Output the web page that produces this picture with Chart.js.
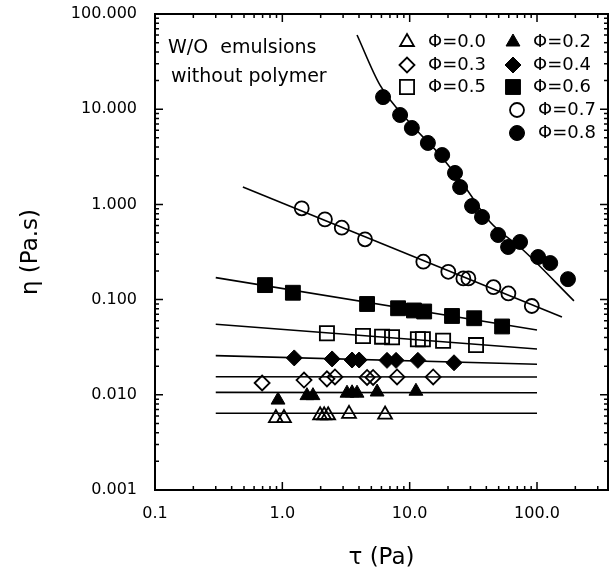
<!DOCTYPE html>
<html>
<head>
<meta charset="utf-8">
<script src="https://cdn.jsdelivr.net/npm/chart.js@4.4.0/dist/chart.umd.min.js"></script>
<style>
  html, body { margin: 0; padding: 0; background: #fff; }
  canvas { display: block; }
</style>
</head>
<body>
<canvas id="viscChart" width="611" height="571"></canvas>
<script>
// shear stress tau (Pa) vs viscosity eta (Pa.s)
const phi00Tau = [0.89, 1.03, 1.98, 2.13, 2.29, 3.34, 6.41];
const phi00Eta = [0.0057, 0.0057, 0.0061, 0.0061, 0.0061, 0.0063, 0.0062];
const phi02Tau = [0.925, 1.56, 1.74, 3.22, 3.53, 3.86, 5.55, 11.2];
const phi02Eta = [0.0088, 0.0098, 0.0098, 0.0104, 0.0105, 0.0104, 0.0107, 0.0109];
const phi03Tau = [0.694, 1.48, 2.24, 2.59, 4.63, 5.16, 7.96, 15.3];
const phi03Eta = [0.0133, 0.0143, 0.0147, 0.0154, 0.0152, 0.0152, 0.0154, 0.0154];
const phi04Tau = [1.24, 2.46, 3.53, 4.01, 6.64, 7.82, 11.6, 22.3];
const phi04Eta = [0.0244, 0.0238, 0.0232, 0.0232, 0.0230, 0.0230, 0.0230, 0.0217];
const phi05Tau = [2.24, 4.30, 6.07, 7.27, 11.6, 12.7, 18.3, 33.2];
const phi05Eta = [0.0443, 0.0415, 0.0408, 0.0402, 0.0383, 0.0383, 0.0370, 0.0333];
const phi06Tau = [0.731, 1.21, 4.63, 8.11, 10.8, 13.0, 21.5, 32.1, 53.2];
const phi06Eta = [0.142, 0.118, 0.0899, 0.0811, 0.0769, 0.0750, 0.0673, 0.0637, 0.0522];
const phi07Tau = [1.42, 2.16, 2.93, 4.46, 12.8, 20.1, 26.4, 28.9, 45.5, 59.6, 91.0];
const phi07Eta = [0.910, 0.697, 0.569, 0.430, 0.250, 0.196, 0.167, 0.167, 0.135, 0.116, 0.0857];
const phi08Tau = [6.18, 8.41, 10.4, 13.9, 18.0, 22.7, 24.9, 30.9, 37.0, 49.5, 59.3, 73.6, 102, 127, 175];
const phi08Eta = [13.4, 8.69, 6.35, 4.42, 3.30, 2.14, 1.52, 0.962, 0.738, 0.477, 0.357, 0.403, 0.280, 0.242, 0.164];

// fitted curves
const fitTau = [0.3, 100];
const fit00Eta = [0.0064, 0.0064];
const fit02Eta = [0.0106, 0.0105];
const fit03Eta = [0.0155, 0.0154];
const fit04Eta = [0.0258, 0.0209];
const fit05Eta = [0.055, 0.0303];
const fit06Eta = [0.170, 0.048];
const fit07Tau = [0.49, 157];
const fit07Eta = [1.52, 0.0656];
const fit08Tau = [3.86, 5.85, 10.4, 17.3, 27.2, 42.8, 77.8, 195];
const fit08Eta = [60.2, 17.9, 6.82, 3.30, 1.52, 0.653, 0.332, 0.097];

const FONT = "'DejaVu Sans', 'Liberation Sans', sans-serif";
const pts = (xs, ys) => xs.map((v, i) => ({ x: v, y: ys[i] }));
const isDecade = v => Math.abs(Math.log10(v) - Math.round(Math.log10(v))) < 1e-6;

function marker(label, xs, ys, style, filled, r) {
    return {
        label, data: pts(xs, ys), showLine: false,
        pointStyle: style, pointRadius: r, pointHoverRadius: r,
        pointBackgroundColor: filled ? '#000' : 'rgba(0,0,0,0)',
        pointBorderColor: '#000', pointBorderWidth: filled ? 1 : 1.8
    };
}
function fit(xs, ys) {
    return {
        data: pts(xs, ys), borderColor: '#000', borderWidth: 1.6,
        pointRadius: 0, fill: false, cubicInterpolationMode: 'monotone'
    };
}

const legendItems = [
    { style: 'triangle', filled: false, r: 8, x: 407, y: 42, label: 'Φ=0.0', tx: 428 },
    { style: 'triangle', filled: true, r: 8, x: 513, y: 42, label: 'Φ=0.2', tx: 533 },
    { style: 'rectRot', filled: false, r: 7.5, x: 407, y: 65, label: 'Φ=0.3', tx: 428 },
    { style: 'rectRot', filled: true, r: 8, x: 513, y: 65, label: 'Φ=0.4', tx: 533 },
    { style: 'rect', filled: false, r: 10, x: 407, y: 87, label: 'Φ=0.5', tx: 428 },
    { style: 'rect', filled: true, r: 10.5, x: 513, y: 87, label: 'Φ=0.6', tx: 533 },
    { style: 'circle', filled: false, r: 7, x: 517, y: 110, label: 'Φ=0.7', tx: 538 },
    { style: 'circle', filled: true, r: 7.5, x: 517, y: 133, label: 'Φ=0.8', tx: 538 }
];

const frameTicks = {
    id: 'frameTicks',
    afterDraw(chart) {
        const { ctx, chartArea: a, scales: { x, y } } = chart;
        ctx.save();
        ctx.strokeStyle = '#000';
        ctx.lineWidth = 2;
        ctx.strokeRect(a.left, a.top, a.right - a.left, a.bottom - a.top);

        // inward ticks on all four sides
        ctx.lineWidth = 1.5;
        ctx.beginPath();
        for (let e = -1; e <= 2; e++) {
            for (let m = 1; m <= 9; m++) {
                const v = m * Math.pow(10, e);
                if (v > x.max) break;
                const px = x.getPixelForValue(v), len = m === 1 ? 8 : 4;
                ctx.moveTo(px, a.bottom); ctx.lineTo(px, a.bottom - len);
                ctx.moveTo(px, a.top); ctx.lineTo(px, a.top + len);
            }
        }
        for (let e = -3; e <= 2; e++) {
            for (let m = 1; m <= 9; m++) {
                const v = m * Math.pow(10, e);
                if (v > y.max) break;
                const py = y.getPixelForValue(v), len = m === 1 ? 8 : 4;
                ctx.moveTo(a.left, py); ctx.lineTo(a.left + len, py);
                ctx.moveTo(a.right, py); ctx.lineTo(a.right - len, py);
            }
        }
        ctx.stroke();

        // annotation
        ctx.fillStyle = '#000';
        ctx.textBaseline = 'middle';
        ctx.textAlign = 'left';
        ctx.font = '19px ' + FONT;
        ctx.fillText('W/O  emulsions', 168, 48);
        ctx.fillText('without polymer', 171, 77);

        // legend
        ctx.font = '18px ' + FONT;
        legendItems.forEach(it => {
            ctx.fillStyle = it.filled ? '#000' : 'rgba(0,0,0,0)';
            ctx.strokeStyle = '#000';
            ctx.lineWidth = it.filled ? 1 : 1.8;
            Chart.helpers.drawPoint(ctx, { pointStyle: it.style, radius: it.r, borderWidth: ctx.lineWidth, rotation: 0 }, it.x, it.y);
            ctx.fillStyle = '#000';
            ctx.fillText(it.label, it.tx, it.y);
        });
        ctx.restore();
    }
};

new Chart(document.getElementById('viscChart').getContext('2d'), {
    type: 'line',
    data: {
        datasets: [
            fit(fitTau, fit00Eta), fit(fitTau, fit02Eta), fit(fitTau, fit03Eta),
            fit(fitTau, fit04Eta), fit(fitTau, fit05Eta), fit(fitTau, fit06Eta),
            fit(fit07Tau, fit07Eta), fit(fit08Tau, fit08Eta),
            marker('Φ=0.0', phi00Tau, phi00Eta, 'triangle', false, 8),
            marker('Φ=0.2', phi02Tau, phi02Eta, 'triangle', true, 8),
            marker('Φ=0.3', phi03Tau, phi03Eta, 'rectRot', false, 7.5),
            marker('Φ=0.4', phi04Tau, phi04Eta, 'rectRot', true, 8),
            marker('Φ=0.5', phi05Tau, phi05Eta, 'rect', false, 10),
            marker('Φ=0.6', phi06Tau, phi06Eta, 'rect', true, 10.5),
            marker('Φ=0.7', phi07Tau, phi07Eta, 'circle', false, 7),
            marker('Φ=0.8', phi08Tau, phi08Eta, 'circle', true, 7.5)
        ]
    },
    options: {
        responsive: false,
        animation: false,
        devicePixelRatio: 1,
        layout: { autoPadding: false, padding: { top: 14, right: 3, left: 0, bottom: 0 } },
        plugins: { legend: { display: false }, tooltip: { enabled: false } },
        scales: {
            x: {
                type: 'logarithmic', min: 0.1, max: 361,
                grid: { display: false, drawTicks: false },
                border: { display: false },
                afterFit: s => { s.height = 81; s.paddingLeft = 0; s.paddingRight = 0; },
                ticks: {
                    autoSkip: false, maxRotation: 0, padding: 14, color: '#000',
                    font: { family: FONT, size: 16 },
                    callback: v => isDecade(v) ? Number(v).toFixed(1) : ''
                },
                title: {
                    display: true, text: 'τ (Pa)', color: '#000',
                    font: { family: FONT, size: 23, lineHeight: 1 }, padding: { top: 1, bottom: 1 }
                }
            },
            y: {
                type: 'logarithmic', min: 0.001, max: 100,
                grid: { display: false, drawTicks: false },
                border: { display: false },
                afterFit: s => { s.width = 155; s.paddingTop = 0; s.paddingBottom = 0; },
                ticks: {
                    autoSkip: false, padding: 18, color: '#000',
                    font: { family: FONT, size: 16 },
                    callback: v => isDecade(v) ? Number(v).toFixed(3) : ''
                },
                title: {
                    display: true, text: 'η (Pa.s)', color: '#000',
                    font: { family: FONT, size: 23, lineHeight: 1 }, padding: { top: 20, bottom: 20 }
                }
            }
        }
    },
    plugins: [frameTicks]
});
</script>
</body>
</html>
